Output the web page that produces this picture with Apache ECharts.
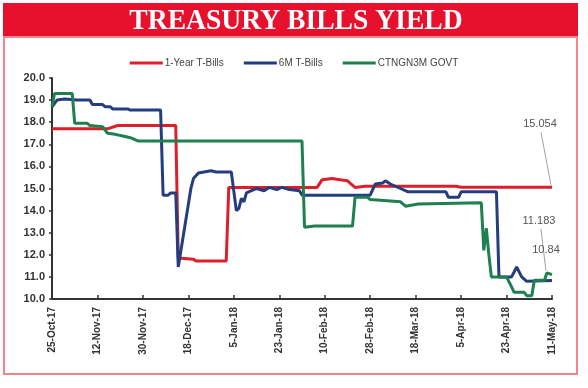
<!DOCTYPE html>
<html><head><meta charset="utf-8">
<script src="https://cdn.jsdelivr.net/npm/echarts@6/dist/echarts.min.js"></script>
<style>html,body{margin:0;padding:0;background:#fff}#c{width:588px;height:388px}</style>
</head><body><div id="c"></div>
<script>
// ---- data ----
const startDate = '2017-10-25';
const xTickLabels = ['25-Oct-17','12-Nov-17','30-Nov-17','18-Dec-17','5-Jan-18','23-Jan-18','10-Feb-18','28-Feb-18','18-Mar-18','5-Apr-18','23-Apr-18','11-May-18'];
const tickStepDays = 18;
const yMin = 10, yMax = 20, yStep = 1;

const oneYearDates = ['2017-10-25','2017-11-16','2017-11-20','2017-12-13','2017-12-14','2017-12-20','2017-12-21','2018-01-02','2018-01-03','2018-02-07','2018-02-09','2018-02-13','2018-02-16','2018-02-19','2018-02-22','2018-02-26','2018-04-03','2018-04-05','2018-05-11'];
const oneYearValues = [17.7,17.7,17.85,17.85,11.85,11.8,11.72,11.72,15.05,15.05,15.4,15.45,15.4,15.35,15.05,15.1,15.1,15.054,15.054];

const sixMonthDates = ['2017-10-25','2017-10-27','2017-10-30','2017-11-04','2017-11-09','2017-11-10','2017-11-14','2017-11-15','2017-11-17','2017-11-18','2017-11-24','2017-11-25','2017-12-07','2017-12-08','2017-12-10','2017-12-11','2017-12-13','2017-12-14','2017-12-19','2017-12-20','2017-12-22','2017-12-27','2017-12-29','2018-01-04','2018-01-06','2018-01-07','2018-01-08','2018-01-09','2018-01-10','2018-01-12','2018-01-14','2018-01-17','2018-01-19','2018-01-22','2018-01-24','2018-01-27','2018-01-31','2018-02-01','2018-02-28','2018-03-02','2018-03-05','2018-03-06','2018-03-08','2018-03-12','2018-03-15','2018-03-30','2018-03-31','2018-04-04','2018-04-05','2018-04-19','2018-04-20','2018-04-25','2018-04-27','2018-04-29','2018-05-01','2018-05-11'];
const sixMonthValues = [18.7,19.0,19.05,19.0,19.0,18.8,18.8,18.7,18.7,18.6,18.6,18.55,18.55,14.7,14.7,14.8,14.8,11.45,15.0,15.45,15.7,15.8,15.75,15.75,14.0,14.1,14.55,14.4,14.8,14.9,15.0,14.9,15.05,14.95,15.05,14.95,14.9,14.7,14.7,15.2,15.25,15.35,15.2,15.0,14.85,14.85,14.6,14.6,14.85,14.85,11.0,11.0,11.45,11.0,10.8,10.84];

const govtDates = ['2017-10-25','2017-10-26','2017-11-02','2017-11-03','2017-11-08','2017-11-09','2017-11-14','2017-11-16','2017-11-19','2017-11-23','2017-11-25','2017-11-28','2018-02-01','2018-02-02','2018-02-06','2018-02-21','2018-02-22','2018-02-27','2018-02-28','2018-03-12','2018-03-14','2018-03-19','2018-04-13','2018-04-14','2018-04-15','2018-04-16','2018-04-17','2018-04-23','2018-04-25','2018-04-26','2018-04-30','2018-05-01','2018-05-03','2018-05-04','2018-05-08','2018-05-09','2018-05-11'];
const govtValues = [18.7,19.3,19.3,17.95,17.95,17.85,17.8,17.5,17.45,17.35,17.3,17.15,17.15,13.25,13.3,13.3,14.6,14.6,14.5,14.4,14.2,14.3,14.35,12.2,13.2,12.0,11.0,11.0,10.55,10.3,10.3,10.15,10.15,10.85,10.85,11.183,11.1];

const seriesNames = ['1-Year T-Bills','6M T-Bills','CTNGN3M GOVT'];
// annotated points: [series index, date]
const annotDates = [[0,'2018-05-11'],[2,'2018-05-09'],[1,'2018-05-11']];

// ---- helpers ----
function dayIndex(s){
  const a = s.split('-').map(Number), b = startDate.split('-').map(Number);
  return Math.round((Date.UTC(a[0],a[1]-1,a[2]) - Date.UTC(b[0],b[1]-1,b[2]))/86400000);
}
function pairs(d, v){ return d.map((s,i)=>[dayIndex(s), v[i]]); }
const allDates = [oneYearDates, sixMonthDates, govtDates];
const allValues = [oneYearValues, sixMonthValues, govtValues];
const colors = ['#DC1F2A','#243D7F','#1E7F4F'];
const maxDay = tickStepDays*(xTickLabels.length-1);

const chart = echarts.init(document.getElementById('c'), null, {renderer:'canvas'});
const option = {
  animation:false,
  backgroundColor:'#fff',
  graphic:[
    {type:'rect', id:'banner', shape:{x:3,y:3,width:575,height:35}, style:{fill:'#E8112D'}, z:0},
    {type:'rect', id:'frame', shape:{x:4,y:37,width:573,height:337}, style:{fill:'none',stroke:'#F3868D',lineWidth:2}, z:0},
    {type:'text', id:'title', x:296, y:21, scaleX:0.92, style:{text:'TREASURY BILLS YIELD', fill:'#fff', font:'bold 30px "Liberation Serif"', textAlign:'center', textVerticalAlign:'middle'}, z:10}
  ],
  legend:{
    top:53, left:'center', icon:'rect', itemWidth:33, itemHeight:3, itemGap:20,
    textStyle:{fontFamily:'Liberation Sans', fontSize:10, color:'#444', padding:[0,0,0,-3]},
    data:seriesNames
  },
  grid:{left:52, right:36, top:78, bottom:89, containLabel:false},
  xAxis:{
    type:'value', min:0, max:maxDay, interval:tickStepDays,
    axisLine:{lineStyle:{color:'#333', width:2}},
    axisTick:{show:true, inside:true, length:4, lineStyle:{color:'#333', width:1.5}},
    splitLine:{show:false},
    axisLabel:{rotate:90, margin:8, fontFamily:'Liberation Sans', fontSize:10, fontWeight:'bold', color:'#333',
      formatter:(v)=> xTickLabels[Math.round(v/tickStepDays)] || ''}
  },
  yAxis:{
    type:'value', min:yMin, max:yMax, interval:yStep,
    axisLine:{show:true, lineStyle:{color:'#333', width:2}},
    axisTick:{show:true, length:3, lineStyle:{color:'#333', width:1.5}},
    splitLine:{show:false},
    axisLabel:{margin:7, fontFamily:'Liberation Sans', fontSize:11, fontWeight:'bold', color:'#333',
      formatter:(v)=>v.toFixed(1)}
  },
  series: seriesNames.map((n,i)=>({
    name:n, type:'line', data:pairs(allDates[i], allValues[i]), symbol:'none', showSymbol:false,
    lineStyle:{color:colors[i], width:3}, itemStyle:{color:colors[i]}, z:2+i
  }))
};
chart.setOption(option);

// annotations with leader lines, positioned from the chart's own scales
const annotOffsets = [[-12,-63,-11,-55],[-8,-52,-6,-44],[-6,-30,0,0]]; // label dx,dy ; leader start dx,dy
const extra = [];
annotDates.forEach((a,k)=>{
  const si = a[0], idx = allDates[si].indexOf(a[1]);
  const val = allValues[si][idx];
  const p = chart.convertToPixel({gridIndex:0}, [dayIndex(a[1]), val]);
  const o = annotOffsets[k];
  extra.push({type:'text', id:'at'+k, x:p[0]+o[0], y:p[1]+o[1], z:20,
    style:{text:String(val), fill:'#555', font:'11px "Liberation Sans"', textAlign:'center', textVerticalAlign:'middle'}});
  if (o[2]||o[3]) extra.push({type:'line', id:'al'+k, z:19,
    shape:{x1:p[0]+o[2], y1:p[1]+o[3], x2:p[0]-1, y2:p[1]-2}, style:{stroke:'#888', lineWidth:0.8}});
});
chart.setOption({graphic: extra});
</script></body></html>
